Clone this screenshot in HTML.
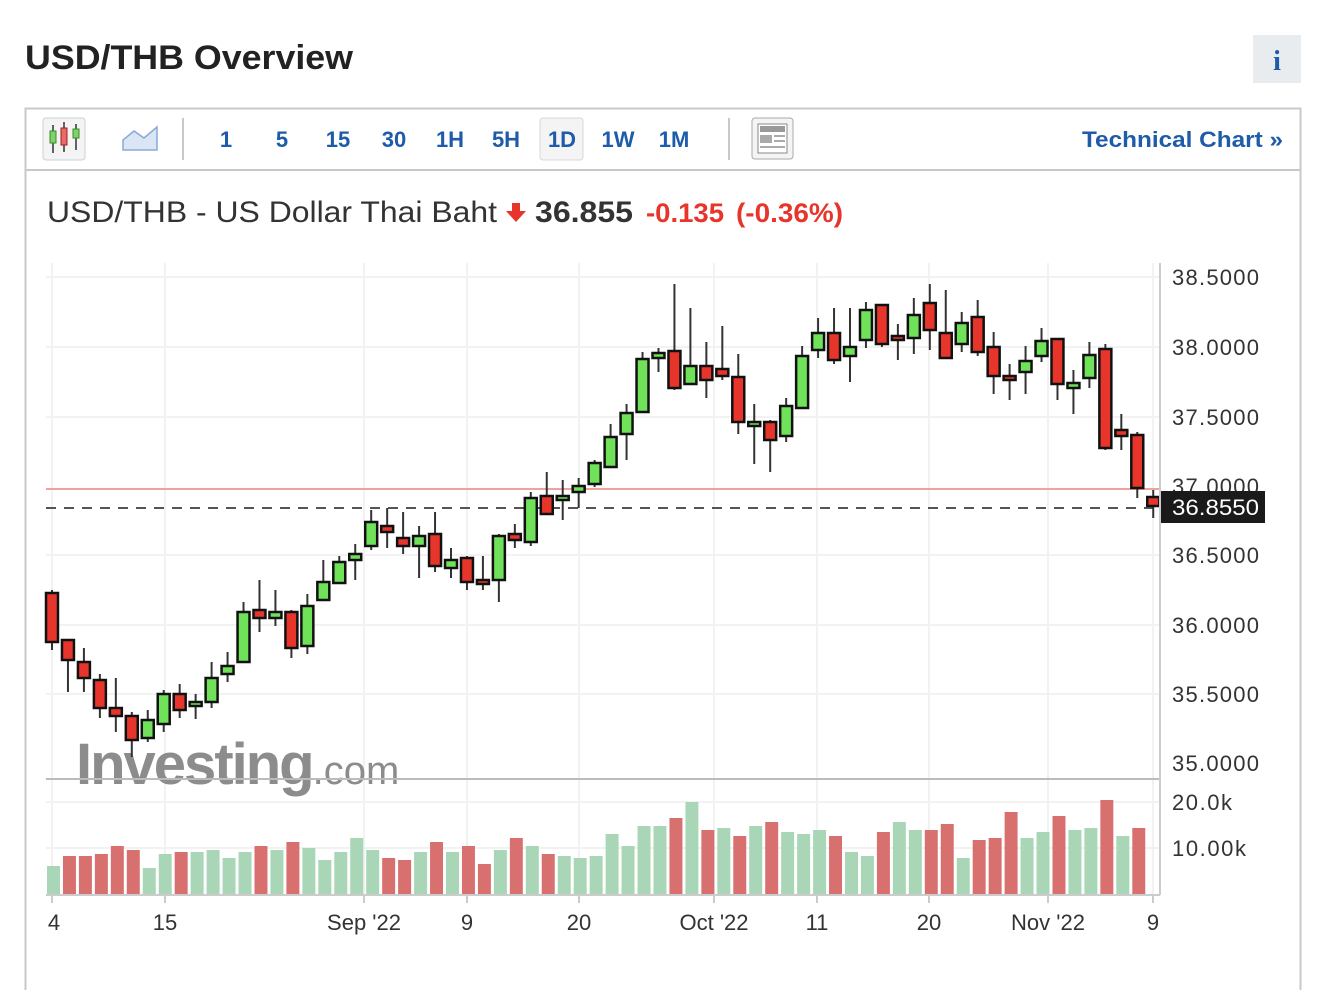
<!DOCTYPE html>
<html><head><meta charset="utf-8"><style>
body{margin:0;background:#fff;width:1322px;height:990px;overflow:hidden;font-family:"Liberation Sans",sans-serif}
</style></head><body>
<svg width="1322" height="990" viewBox="0 0 1322 990" xmlns="http://www.w3.org/2000/svg" font-family="Liberation Sans, sans-serif">
<text x="25" y="69" font-size="34" font-weight="bold" fill="#222" textLength="328" lengthAdjust="spacingAndGlyphs">USD/THB Overview</text>
<rect x="1253" y="35" width="48" height="48" fill="#e9ecef"/>
<text x="1277" y="70" font-size="28" font-weight="bold" fill="#1e5ba8" text-anchor="middle" font-family="Liberation Serif, serif">i</text>
<rect x="25.5" y="108.5" width="1275" height="890" fill="none" stroke="#c8c8c8" stroke-width="2"/>
<line x1="25" y1="170" x2="1300" y2="170" stroke="#c8c8c8" stroke-width="2"/>
<rect x="43" y="118" width="42" height="42" rx="3" fill="#f4f4f4" stroke="#d0d0d0"/>
<g stroke="#333" stroke-width="1.5"><line x1="53" y1="125" x2="53" y2="153"/><line x1="64" y1="122" x2="64" y2="152"/><line x1="76" y1="124" x2="76" y2="150"/></g>
<rect x="50" y="131" width="6" height="12" fill="#7fd36b" stroke="#3a8a2a"/><rect x="61" y="128" width="6" height="17" fill="#e86a6a" stroke="#a02020"/><rect x="73" y="129" width="6" height="9" fill="#7fd36b" stroke="#3a8a2a"/>
<path d="M123 150 L123 140 L134 131 L144 138 L157 127 L157 150 Z" fill="#dbe6f5" stroke="#8aa8d8" stroke-width="1.5"/>
<line x1="183" y1="118" x2="183" y2="160" stroke="#c8c8c8" stroke-width="2"/>
<g font-size="22" font-weight="bold" fill="#1e5ba8" text-anchor="middle">
<text x="226" y="147">1</text><text x="282" y="147">5</text><text x="338" y="147">15</text><text x="394" y="147">30</text><text x="450" y="147">1H</text><text x="506" y="147">5H</text>
<rect x="540" y="118" width="43" height="42" rx="3" fill="#f4f4f4" stroke="#d8d8d8"/>
<text x="562" y="147">1D</text><text x="618" y="147">1W</text><text x="674" y="147">1M</text></g>
<text x="1082" y="147" font-size="22" font-weight="bold" fill="#1e5ba8" textLength="201" lengthAdjust="spacingAndGlyphs">Technical Chart »</text>
<line x1="729" y1="118" x2="729" y2="160" stroke="#c8c8c8" stroke-width="2"/>
<rect x="752" y="118" width="41" height="41" rx="3" fill="#f4f4f4" stroke="#aaa"/>
<rect x="758" y="124" width="29" height="29" fill="#fff" stroke="#888"/><rect x="760" y="126" width="25" height="6" fill="#999"/>
<g fill="#aaa"><rect x="760" y="135" width="12" height="8"/><rect x="774" y="135" width="11" height="2"/><rect x="774" y="140" width="11" height="2"/><rect x="760" y="146" width="25" height="2"/></g>
<text x="47" y="222" font-size="30" fill="#333" textLength="450" lengthAdjust="spacingAndGlyphs">USD/THB - US Dollar Thai Baht</text>
<path d="M512 203 h8 v8 h6 l-10 11 l-10 -11 h6z" fill="#e8352b"/>
<text x="535" y="222" font-size="30" font-weight="bold" fill="#333" textLength="98" lengthAdjust="spacingAndGlyphs">36.855</text>
<text x="646" y="222" font-size="27" font-weight="bold" fill="#e8352b" textLength="78" lengthAdjust="spacingAndGlyphs">-0.135</text>
<text x="736" y="222" font-size="27" font-weight="bold" fill="#e8352b" textLength="107" lengthAdjust="spacingAndGlyphs">(-0.36%)</text>
<g stroke="#f2f2f2" stroke-width="2">
<line x1="46" y1="277" x2="1160" y2="277"/><line x1="46" y1="347" x2="1160" y2="347"/><line x1="46" y1="417" x2="1160" y2="417"/><line x1="46" y1="555" x2="1160" y2="555"/><line x1="46" y1="625" x2="1160" y2="625"/><line x1="46" y1="694" x2="1160" y2="694"/><line x1="46" y1="802" x2="1160" y2="802"/><line x1="46" y1="848" x2="1160" y2="848"/>
<line x1="52" y1="263" x2="52" y2="895"/><line x1="165" y1="263" x2="165" y2="895"/><line x1="364" y1="263" x2="364" y2="895"/><line x1="467" y1="263" x2="467" y2="895"/><line x1="579" y1="263" x2="579" y2="895"/><line x1="714" y1="263" x2="714" y2="895"/><line x1="817" y1="263" x2="817" y2="895"/><line x1="929" y1="263" x2="929" y2="895"/><line x1="1048" y1="263" x2="1048" y2="895"/><line x1="1153" y1="263" x2="1153" y2="895"/>
</g>
<text x="76" y="784" font-size="58" font-weight="bold" fill="#8c8c8c" letter-spacing="-2">Investing<tspan font-size="40" font-weight="normal" letter-spacing="0">.com</tspan></text>
<line x1="46" y1="779" x2="1160" y2="779" stroke="#bbb" stroke-width="2"/>
<line x1="46" y1="489" x2="1160" y2="489" stroke="#f3a0a0" stroke-width="2"/>
<line x1="46" y1="508" x2="1160" y2="508" stroke="#555" stroke-width="2" stroke-dasharray="10,8"/>
<g transform="matrix(0.9975 0 0 1 0.13 0)">
<g fill="#a8d6b6">
<rect x="47" y="866" width="13" height="29"/><rect x="143" y="868" width="13" height="27"/><rect x="159" y="854" width="13" height="41"/><rect x="191" y="852" width="13" height="43"/><rect x="207" y="850" width="13" height="45"/><rect x="223" y="858" width="13" height="37"/><rect x="239" y="852" width="13" height="43"/><rect x="271" y="850" width="13" height="45"/><rect x="303" y="848" width="13" height="47"/><rect x="319" y="860" width="13" height="35"/><rect x="335" y="852" width="13" height="43"/><rect x="351" y="838" width="13" height="57"/><rect x="367" y="850" width="13" height="45"/><rect x="415" y="852" width="13" height="43"/><rect x="447" y="852" width="13" height="43"/><rect x="495" y="850" width="13" height="45"/><rect x="527" y="846" width="13" height="49"/><rect x="559" y="856" width="13" height="39"/><rect x="575" y="858" width="13" height="37"/><rect x="591" y="856" width="13" height="39"/><rect x="607" y="834" width="13" height="61"/><rect x="623" y="846" width="13" height="49"/><rect x="639" y="826" width="13" height="69"/><rect x="655" y="826" width="13" height="69"/><rect x="687" y="802" width="13" height="93"/><rect x="719" y="828" width="13" height="67"/><rect x="751" y="826" width="13" height="69"/><rect x="783" y="832" width="13" height="63"/><rect x="799" y="834" width="13" height="61"/><rect x="815" y="830" width="13" height="65"/><rect x="847" y="852" width="13" height="43"/><rect x="863" y="856" width="13" height="39"/><rect x="895" y="822" width="13" height="73"/><rect x="911" y="830" width="13" height="65"/><rect x="959" y="858" width="13" height="37"/><rect x="1023" y="838" width="13" height="57"/><rect x="1039" y="832" width="13" height="63"/><rect x="1071" y="830" width="13" height="65"/><rect x="1087" y="828" width="13" height="67"/><rect x="1119" y="836" width="13" height="59"/>
</g>
<g fill="#d8706f">
<rect x="63" y="856" width="13" height="39"/><rect x="79" y="856" width="13" height="39"/><rect x="95" y="854" width="13" height="41"/><rect x="111" y="846" width="13" height="49"/><rect x="127" y="850" width="13" height="45"/><rect x="175" y="852" width="13" height="43"/><rect x="255" y="846" width="13" height="49"/><rect x="287" y="842" width="13" height="53"/><rect x="383" y="858" width="13" height="37"/><rect x="399" y="860" width="13" height="35"/><rect x="431" y="842" width="13" height="53"/><rect x="463" y="846" width="13" height="49"/><rect x="479" y="864" width="13" height="31"/><rect x="511" y="838" width="13" height="57"/><rect x="543" y="854" width="13" height="41"/><rect x="671" y="818" width="13" height="77"/><rect x="703" y="830" width="13" height="65"/><rect x="735" y="836" width="13" height="59"/><rect x="767" y="822" width="13" height="73"/><rect x="831" y="836" width="13" height="59"/><rect x="879" y="832" width="13" height="63"/><rect x="927" y="830" width="13" height="65"/><rect x="943" y="824" width="13" height="71"/><rect x="975" y="840" width="13" height="55"/><rect x="991" y="838" width="13" height="57"/><rect x="1007" y="812" width="13" height="83"/><rect x="1055" y="816" width="13" height="79"/><rect x="1103" y="800" width="13" height="95"/><rect x="1135" y="828" width="13" height="67"/>
</g>
<g stroke="#333" stroke-width="2">
<line x1="52" y1="590" x2="52" y2="650"/><line x1="68" y1="640" x2="68" y2="692"/><line x1="84" y1="648" x2="84" y2="692"/><line x1="100" y1="674" x2="100" y2="718"/><line x1="116" y1="678" x2="116" y2="732"/><line x1="132" y1="712" x2="132" y2="757"/><line x1="148" y1="710" x2="148" y2="742"/><line x1="164" y1="690" x2="164" y2="732"/><line x1="180" y1="684" x2="180" y2="718"/><line x1="196" y1="694" x2="196" y2="719"/><line x1="212" y1="662" x2="212" y2="708"/><line x1="228" y1="652" x2="228" y2="682"/><line x1="244" y1="602" x2="244" y2="662"/><line x1="260" y1="580" x2="260" y2="632"/><line x1="276" y1="590" x2="276" y2="626"/><line x1="292" y1="610" x2="292" y2="658"/><line x1="308" y1="594" x2="308" y2="654"/><line x1="324" y1="560" x2="324" y2="600"/><line x1="340" y1="556" x2="340" y2="584"/><line x1="356" y1="544" x2="356" y2="580"/><line x1="372" y1="510" x2="372" y2="550"/><line x1="388" y1="508" x2="388" y2="548"/><line x1="404" y1="512" x2="404" y2="554"/><line x1="420" y1="526" x2="420" y2="578"/><line x1="436" y1="512" x2="436" y2="572"/><line x1="452" y1="548" x2="452" y2="578"/><line x1="468" y1="556" x2="468" y2="590"/><line x1="484" y1="556" x2="484" y2="590"/><line x1="500" y1="534" x2="500" y2="602"/><line x1="516" y1="524" x2="516" y2="548"/><line x1="532" y1="492" x2="532" y2="546"/><line x1="548" y1="472" x2="548" y2="514"/><line x1="564" y1="480" x2="564" y2="520"/><line x1="580" y1="478" x2="580" y2="508"/><line x1="596" y1="460" x2="596" y2="487"/><line x1="612" y1="424" x2="612" y2="468"/><line x1="628" y1="404" x2="628" y2="460"/><line x1="644" y1="352" x2="644" y2="412"/><line x1="660" y1="348" x2="660" y2="372"/><line x1="676" y1="284" x2="676" y2="390"/><line x1="692" y1="308" x2="692" y2="384"/><line x1="708" y1="342" x2="708" y2="398"/><line x1="724" y1="326" x2="724" y2="380"/><line x1="740" y1="354" x2="740" y2="434"/><line x1="756" y1="404" x2="756" y2="464"/><line x1="772" y1="420" x2="772" y2="472"/><line x1="788" y1="398" x2="788" y2="442"/><line x1="804" y1="346" x2="804" y2="408"/><line x1="820" y1="318" x2="820" y2="358"/><line x1="836" y1="308" x2="836" y2="364"/><line x1="852" y1="308" x2="852" y2="382"/><line x1="868" y1="302" x2="868" y2="348"/><line x1="884" y1="305" x2="884" y2="347"/><line x1="900" y1="324" x2="900" y2="360"/><line x1="916" y1="298" x2="916" y2="354"/><line x1="932" y1="284" x2="932" y2="350"/><line x1="948" y1="290" x2="948" y2="358"/><line x1="964" y1="312" x2="964" y2="352"/><line x1="980" y1="300" x2="980" y2="356"/><line x1="996" y1="332" x2="996" y2="394"/><line x1="1012" y1="364" x2="1012" y2="400"/><line x1="1028" y1="346" x2="1028" y2="394"/><line x1="1044" y1="328" x2="1044" y2="362"/><line x1="1060" y1="338" x2="1060" y2="400"/><line x1="1076" y1="370" x2="1076" y2="414"/><line x1="1092" y1="342" x2="1092" y2="388"/><line x1="1108" y1="344" x2="1108" y2="450"/><line x1="1124" y1="414" x2="1124" y2="450"/><line x1="1140" y1="432" x2="1140" y2="498"/><line x1="1156" y1="490" x2="1156" y2="518"/>
</g>
<g stroke="#111" stroke-width="2.5" fill="#e8352b">
<rect x="46" y="593" width="12" height="49"/><rect x="62" y="640" width="12" height="20"/><rect x="78" y="662" width="12" height="16"/><rect x="94" y="680" width="12" height="28"/><rect x="110" y="708" width="12" height="8"/><rect x="126" y="716" width="12" height="24"/><rect x="174" y="694" width="12" height="16"/><rect x="254" y="610" width="12" height="8"/><rect x="286" y="612" width="12" height="36"/><rect x="382" y="526" width="12" height="6"/><rect x="398" y="538" width="12" height="8"/><rect x="430" y="534" width="12" height="32"/><rect x="462" y="558" width="12" height="24"/><rect x="478" y="580" width="12" height="4"/><rect x="510" y="534" width="12" height="6"/><rect x="542" y="496" width="12" height="18"/><rect x="670" y="351" width="12" height="37"/><rect x="702" y="366" width="12" height="14"/><rect x="718" y="369" width="12" height="7"/><rect x="734" y="377" width="12" height="45"/><rect x="766" y="422" width="12" height="18"/><rect x="830" y="333" width="12" height="27"/><rect x="878" y="305" width="12" height="39"/><rect x="894" y="336" width="12" height="4"/><rect x="926" y="303" width="12" height="27"/><rect x="942" y="333" width="12" height="25"/><rect x="974" y="317" width="12" height="35"/><rect x="990" y="347" width="12" height="29"/><rect x="1006" y="376" width="12" height="4"/><rect x="1054" y="339" width="12" height="45"/><rect x="1102" y="349" width="12" height="99"/><rect x="1118" y="430" width="12" height="6"/><rect x="1134" y="435" width="12" height="53"/><rect x="1150" y="497" width="12" height="9"/>
</g>
<g stroke="#111" stroke-width="2.5" fill="#6fe25a">
<rect x="142" y="720" width="12" height="18"/><rect x="158" y="694" width="12" height="30"/><rect x="190" y="702" width="12" height="4"/><rect x="206" y="678" width="12" height="24"/><rect x="222" y="666" width="12" height="8"/><rect x="238" y="612" width="12" height="50"/><rect x="270" y="612" width="12" height="6"/><rect x="302" y="606" width="12" height="40"/><rect x="318" y="582" width="12" height="18"/><rect x="334" y="562" width="12" height="21"/><rect x="350" y="554" width="12" height="6"/><rect x="366" y="522" width="12" height="24"/><rect x="414" y="536" width="12" height="10"/><rect x="446" y="560" width="12" height="8"/><rect x="494" y="536" width="12" height="44"/><rect x="526" y="498" width="12" height="44"/><rect x="558" y="496" width="12" height="4"/><rect x="574" y="486" width="12" height="6"/><rect x="590" y="463" width="12" height="21"/><rect x="606" y="437" width="12" height="30"/><rect x="622" y="413" width="12" height="21"/><rect x="638" y="359" width="12" height="53"/><rect x="654" y="353" width="12" height="5"/><rect x="686" y="366" width="12" height="18"/><rect x="750" y="422" width="12" height="4"/><rect x="782" y="406" width="12" height="30"/><rect x="798" y="356" width="12" height="52"/><rect x="814" y="333" width="12" height="17"/><rect x="846" y="347" width="12" height="9"/><rect x="862" y="310" width="12" height="30"/><rect x="910" y="315" width="12" height="23"/><rect x="958" y="323" width="12" height="21"/><rect x="1022" y="361" width="12" height="11"/><rect x="1038" y="341" width="12" height="15"/><rect x="1070" y="383" width="12" height="5"/><rect x="1086" y="355" width="12" height="23"/>
</g>
</g>
<line x1="1160" y1="263" x2="1160" y2="895" stroke="#ccc" stroke-width="2"/>
<line x1="46" y1="895" x2="1160" y2="895" stroke="#ccc" stroke-width="2"/>
<g stroke="#ccc" stroke-width="2"><line x1="52" y1="895" x2="52" y2="903"/><line x1="165" y1="895" x2="165" y2="903"/><line x1="364" y1="895" x2="364" y2="903"/><line x1="467" y1="895" x2="467" y2="903"/><line x1="579" y1="895" x2="579" y2="903"/><line x1="714" y1="895" x2="714" y2="903"/><line x1="817" y1="895" x2="817" y2="903"/><line x1="929" y1="895" x2="929" y2="903"/><line x1="1048" y1="895" x2="1048" y2="903"/><line x1="1153" y1="895" x2="1153" y2="903"/></g>
<g font-size="22" fill="#333" lengthAdjust="spacingAndGlyphs">
<text x="1172" y="285" textLength="87">38.5000</text><text x="1172" y="355" textLength="87">38.0000</text><text x="1172" y="425" textLength="87">37.5000</text><text x="1172" y="494" textLength="87">37.0000</text><text x="1172" y="563" textLength="87">36.5000</text><text x="1172" y="633" textLength="87">36.0000</text><text x="1172" y="702" textLength="87">35.5000</text><text x="1172" y="771" textLength="87">35.0000</text><text x="1172" y="810" textLength="60">20.0k</text><text x="1172" y="856" textLength="74">10.00k</text>
</g>
<rect x="1161" y="491" width="104" height="32" fill="#1a1a1a"/>
<text x="1172" y="515" font-size="22" fill="#fff" textLength="87" lengthAdjust="spacingAndGlyphs">36.8550</text>
<g font-size="22" fill="#333" text-anchor="middle">
<text x="54" y="930">4</text><text x="165" y="930">15</text><text x="364" y="930">Sep '22</text><text x="467" y="930">9</text><text x="579" y="930">20</text><text x="714" y="930">Oct '22</text><text x="817" y="930">11</text><text x="929" y="930">20</text><text x="1048" y="930">Nov '22</text><text x="1153" y="930">9</text>
</g>
</svg>
</body></html>
